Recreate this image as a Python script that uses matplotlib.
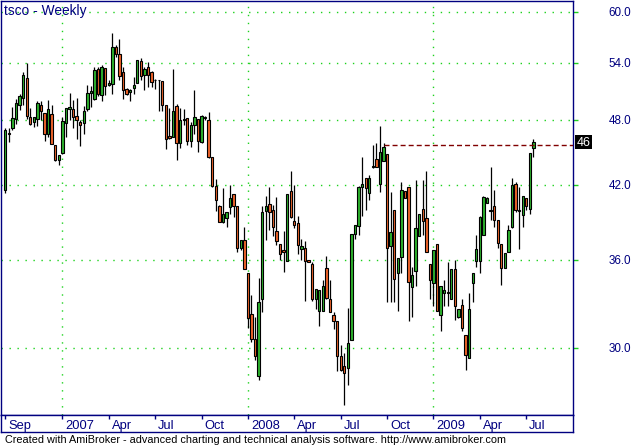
import matplotlib
matplotlib.use("Agg")
import matplotlib.pyplot as plt
from matplotlib.patches import Rectangle
from matplotlib.ticker import NullLocator
from matplotlib.transforms import blended_transform_factory, offset_copy

plt.rcParams['font.family'] = ['Liberation Sans', 'DejaVu Sans']

# weekly bars (Sep 2006 .. Jul 2009)
opens = [41.6, 46.8, 47.2, 48.1, 49.5, 50.3, 52.4, 48.3, 47.8, 48.1,
         49.5, 48.7, 46.7, 48.6, 45.6, 44.2, 44.9, 47.7, 49.1, 49.1,
         48.4, 47.8, 47.7, 49.1, 50.8, 50.2, 53.4, 50.6, 53.5, 51.6,
         51.7, 55.8, 55.0, 53.0, 51.2, 50.9, 51.3, 51.8, 54.2, 52.7,
         53.6, 53.0, 52.2, 52.1, 52.0, 49.5, 46.5, 46.4, 49.4, 45.8,
         48.0, 48.2, 46.0, 47.5, 48.1, 45.9, 48.3, 48.0, 44.5, 41.9,
         40.2, 38.9, 39.2, 40.1, 41.2, 40.2, 36.9, 37.5, 35.0, 32.2,
         30.6, 28.3, 33.2, 39.8, 40.4, 39.9, 38.2, 37.2, 36.7, 35.9,
         41.5, 39.0, 38.8, 36.8, 36.9, 36.0, 35.7, 33.2, 32.4, 32.4,
         35.4, 33.2, 32.1, 31.7, 29.5, 28.9, 28.8, 30.5, 38.0, 38.6,
         41.8, 42.6, 41.3, 43.6, 44.3, 42.1, 44.1, 44.8, 37.0, 39.9,
         35.0, 36.2, 41.5, 41.8, 34.0, 35.2, 37.8, 40.0, 39.2, 35.7,
         34.3, 37.2, 32.1, 33.6, 33.7, 33.2, 35.3, 32.0, 32.8, 30.8,
         29.4, 34.3, 35.9, 35.9, 37.9, 40.5, 39.9, 40.2, 39.1, 37.2,
         35.4, 36.6, 38.5, 42.1, 39.8, 39.5, 40.9, 40.0, 45.3]
highs = [47.2, 47.2, 49.3, 50.2, 50.7, 53.0, 54.0, 49.2, 48.3, 49.9,
         49.9, 48.7, 50.0, 49.5, 45.6, 44.7, 48.3, 49.2, 50.8, 50.0,
         50.3, 48.0, 49.4, 51.6, 51.5, 53.6, 53.6, 53.8, 53.5, 52.2,
         57.5, 56.1, 56.8, 53.6, 51.3, 51.2, 52.5, 54.4, 54.6, 53.6,
         54.1, 53.1, 52.3, 52.2, 52.0, 49.5, 49.2, 53.3, 49.6, 49.2,
         49.1, 48.2, 47.8, 51.1, 48.1, 48.5, 48.4, 48.8, 44.5, 42.5,
         40.3, 41.7, 39.7, 42.0, 41.2, 40.2, 37.5, 38.5, 35.0, 33.5,
         32.0, 34.7, 40.2, 41.1, 41.8, 40.3, 41.0, 37.2, 38.2, 41.2,
         43.2, 42.0, 39.4, 37.6, 37.4, 36.0, 35.8, 33.9, 33.8, 34.5,
         36.3, 34.5, 32.3, 31.7, 30.2, 29.7, 32.6, 38.0, 38.7, 41.9,
         44.5, 42.6, 42.9, 45.6, 45.8, 47.4, 45.8, 44.8, 41.4, 39.9,
         36.1, 42.3, 41.5, 41.8, 35.5, 42.4, 39.6, 42.4, 43.2, 35.7,
         36.7, 37.2, 34.1, 34.5, 35.8, 35.3, 36.0, 32.5, 33.2, 30.8,
         33.6, 35.0, 37.9, 39.4, 41.1, 41.0, 43.6, 41.6, 39.1, 37.2,
         36.5, 38.7, 42.6, 42.3, 41.8, 41.1, 40.9, 44.9, 46.2]
lows = [41.3, 45.9, 47.0, 47.6, 49.0, 49.5, 48.1, 47.5, 47.3, 47.4,
        48.0, 46.0, 46.4, 45.7, 44.1, 43.8, 44.8, 46.4, 48.0, 47.2,
        46.2, 45.5, 46.7, 48.9, 49.3, 50.0, 50.5, 49.9, 50.6, 51.5,
        50.7, 54.7, 52.2, 50.2, 50.6, 49.9, 50.7, 51.8, 52.2, 51.1,
        51.4, 51.4, 51.2, 48.9, 48.9, 45.2, 46.2, 46.4, 44.2, 45.3,
        47.5, 45.6, 45.4, 46.7, 45.0, 45.8, 48.0, 44.4, 41.8, 39.8,
        38.9, 38.8, 38.5, 39.6, 39.3, 36.6, 36.7, 35.3, 31.3, 30.4,
        29.3, 28.1, 32.3, 37.5, 38.3, 37.8, 37.1, 36.0, 35.1, 35.9,
        39.2, 38.4, 36.4, 36.0, 33.1, 35.8, 33.1, 32.5, 31.4, 32.4,
        33.2, 32.3, 31.2, 28.6, 28.6, 26.7, 27.8, 30.5, 37.6, 37.9,
        39.4, 39.9, 40.7, 43.5, 43.6, 41.4, 44.1, 33.0, 33.0, 33.0,
        32.4, 35.0, 40.9, 31.7, 32.0, 34.1, 37.8, 37.9, 36.6, 33.2,
        32.7, 32.4, 31.1, 32.7, 32.7, 33.2, 31.8, 31.9, 31.1, 28.7,
        29.4, 33.0, 35.5, 35.0, 37.9, 40.5, 39.1, 38.5, 36.9, 34.2,
        35.4, 36.6, 38.4, 39.7, 36.8, 38.5, 39.9, 39.6, 44.5]
closes = [47.0, 46.7, 48.2, 49.7, 50.5, 52.7, 48.4, 47.6, 48.3, 49.7,
          48.9, 46.7, 49.1, 45.7, 44.2, 44.7, 47.9, 49.2, 49.3, 48.3,
          48.0, 47.5, 48.9, 50.8, 51.0, 53.2, 50.7, 53.6, 51.5, 51.8,
          55.8, 55.0, 52.6, 51.1, 50.7, 51.1, 51.6, 54.4, 52.6, 53.4,
          52.7, 51.9, 52.1, 52.1, 49.5, 46.2, 46.3, 48.9, 45.8, 48.0,
          48.1, 46.0, 47.5, 48.3, 46.0, 48.4, 48.2, 44.5, 41.9, 40.7,
          38.9, 39.6, 39.7, 40.9, 40.2, 36.9, 37.5, 35.3, 31.9, 30.6,
          29.5, 33.0, 39.7, 40.2, 39.7, 38.5, 37.4, 36.4, 36.6, 41.2,
          39.3, 38.7, 37.1, 37.0, 35.9, 35.8, 33.2, 33.9, 33.8, 34.1,
          33.3, 32.3, 31.7, 29.5, 28.7, 28.5, 30.3, 38.0, 38.7, 41.8,
          42.1, 41.7, 42.6, 43.7, 43.6, 45.0, 45.4, 36.9, 38.1, 34.6,
          36.1, 41.6, 40.9, 34.4, 34.9, 38.4, 39.6, 39.0, 36.6, 34.5,
          36.7, 32.4, 34.1, 33.8, 33.6, 35.3, 32.7, 32.5, 31.3, 29.6,
          32.5, 35.0, 36.8, 39.3, 41.0, 40.9, 39.8, 39.1, 37.3, 35.4,
          36.5, 38.3, 42.0, 39.9, 39.9, 41.1, 40.2, 44.9, 45.9]

tick_bars = [0, 16, 29, 42, 55, 68, 81, 94, 107, 120, 133, 146]
tick_labels = ['Sep', '2007', 'Apr', 'Jul', 'Oct', '2008', 'Apr', 'Jul',
               'Oct', '2009', 'Apr', 'Jul']
year_bars = [16, 68, 120]
levels = [30.0, 36.0, 42.0, 48.0, 54.0, 60.0]
hline_level = 45.6
hline_from = 106

navy = '#000080'
grid_green = '#1ED21E'
up_col = '#2DB22D'
dn_col = '#F0642A'

W, H = 634, 445
fig = plt.figure(figsize=(W / 100, H / 100), dpi=100, facecolor='white')
ax = fig.add_axes([1 / W, 1 - 415 / H, 572 / W, 414 / H])
ax.set_yscale('log')
ax.set_ylim(26.14, 61.38)
ax.set_xlim(-1.2, 159.1)

# grid
for lv in levels:
    ax.axhline(lv, color=grid_green, lw=1.0, ls=(0, (1, 4.75)), zorder=1)
for b in year_bars:
    ax.axvline(b, color=grid_green, lw=1.0, ls=(0, (1, 4.75)), zorder=1)

# candles
x = list(range(len(opens)))
ax.vlines(x, lows, highs, color='black', lw=0.9, zorder=3)
bottoms = [min(o, c) for o, c in zip(opens, closes)]
heights = [abs(c - o) for o, c in zip(opens, closes)]
cols = [up_col if c >= o else dn_col for o, c in zip(opens, closes)]
ax.bar(x, heights, bottom=bottoms, width=0.66, color=cols,
       edgecolor='black', linewidth=0.8, zorder=4)

ax.plot([hline_from, ax.get_xlim()[1]], [hline_level, hline_level],
        color='#800000', lw=1.0, ls=(0, (3.6, 2.2)), zorder=5)

# axes frame / ticks
for s in ax.spines.values():
    s.set_color(navy)
    s.set_linewidth(1.0)
ax.set_xticks([])
ax.yaxis.set_minor_locator(NullLocator())
ax.set_yticks(levels)
ax.yaxis.tick_right()
ax.tick_params(axis='y', which='both', direction='out', length=3.6, width=1,
               color=grid_green, labelright=False, labelleft=False)

trans = blended_transform_factory(fig.transFigure, ax.transData)
for lv in levels:
    fig.text(631 / W, lv, f'{lv:.1f}', transform=offset_copy(trans, fig=fig, y=-4.2, units='dots'),
             ha='right', va='baseline', color=navy, fontsize=8.4)

# last price box
yp = ax.transData.transform((0, closes[-1]))[1]
fig.patches.append(Rectangle((575 / W, (yp - 7) / H), 17 / W, 14 / H,
                             transform=fig.transFigure, facecolor='black', edgecolor='none'))
fig.text(583.5 / W, (yp - 4.3) / H, f'{closes[-1]:.0f}', color='white',
         ha='center', va='baseline', fontsize=9)

# date strip
ax2 = fig.add_axes([1 / W, 1 - 432 / H, 572 / W, 17 / H])
ax2.set_xlim(ax.get_xlim())
ax2.set_ylim(0, 1)
ax2.set_yticks([])
ax2.set_xticks(tick_bars)
ax2.xaxis.set_ticks_position('top')
ax2.tick_params(axis='x', direction='in', length=2.9, width=1, color=navy,
                labeltop=False, labelbottom=False)
for s in ax2.spines.values():
    s.set_color(navy)
    s.set_linewidth(1.0)
t2 = offset_copy(blended_transform_factory(ax2.transData, ax2.transAxes), fig=fig, x=3, units='dots')
for b, lab in zip(tick_bars, tick_labels):
    ax2.text(b, 0.17, lab, transform=t2, ha='left', va='baseline',
             color=navy, fontsize=9.3)

fig.text(4 / W, 1 - 15 / H, 'tsco - Weekly', color=navy, fontsize=9.9, va='baseline')
fig.text(5 / W, 2.3 / H,
         'Created with AmiBroker - advanced charting and technical analysis software. http://www.amibroker.com',
         color='black', fontsize=7.8, va='baseline')

fig.savefig('out.png', dpi=100, facecolor='white')
